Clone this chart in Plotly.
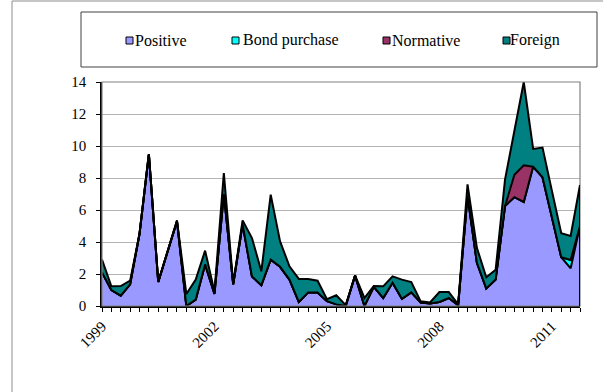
import plotly.graph_objects as go

# ---- data (quarterly, 1999Q1 .. 2011Q4) ----
years = list(range(1999, 2012))
quarters = [f"{y}Q{q}" for y in years for q in range(1, 5)]

positive = [2.1, 1.0, 0.65, 1.35, 4.5, 9.5, 1.5, 3.4, 5.3, 0.0, 0.4, 2.6,
            0.75, 7.0, 1.35, 5.1, 1.85, 1.3, 2.9, 2.45, 1.65, 0.25, 0.85, 0.85,
            0.3, 0.1, 0.0, 1.9, 0.0, 1.2, 0.5, 1.45, 0.45, 0.85, 0.22, 0.15,
            0.25, 0.5, 0.05, 6.9, 2.7, 1.1, 1.65, 6.25, 6.8, 6.5, 8.7, 8.05,
            5.5, 3.05, 2.35, 5.0]
bond_purchase = [0.0] * 50 + [0.52, 0.0]
normative = [0.0] * 44 + [1.4, 2.3, 0.0] + [0.0] * 5
foreign = [0.8, 0.23, 0.6, 0.23, 0.0, 0.0, 0.0, 0.0, 0.05, 0.75, 1.25, 0.86,
           0.15, 1.3, 0.05, 0.25, 2.4, 0.87, 4.06, 1.59, 0.83, 1.44, 0.84, 0.73,
           0.12, 0.57, 0.05, 0.02, 0.5, 0.05, 0.73, 0.4, 1.2, 0.65, 0.07, 0.07,
           0.62, 0.37, 0.05, 0.7, 0.93, 0.7, 0.62, 1.65, 2.7, 5.2, 1.12, 1.85,
           1.7, 1.5, 1.51, 2.57]

series_names = ["Positive", "Bond purchase", "Normative", "Foreign"]
series_values = [positive, bond_purchase, normative, foreign]
series_colors = ["#9999FF", "#00FFFF", "#993366", "#008080"]

tick_labels = [str(q[:4]) if (q.endswith("Q1") and (int(q[:4]) - 1999) % 3 == 0) else ""
               for q in quarters]

# ---- layout geometry ----
W, H = 603, 392
L, R, T, B = 102, 23, 82, 86
PW, PH = W - L - R, H - T - B

def xp(px):
    return (px - L) / PW

def yp(py):
    return (H - B - py) / PH

FONT = "'Liberation Serif', 'Times New Roman', 'DejaVu Serif', serif"

fig = go.Figure()
for name, vals, col in zip(series_names, series_values, series_colors):
    fig.add_trace(go.Scatter(
        x=quarters, y=vals, name=name, stackgroup="one", mode="lines",
        line=dict(color="black", width=2), fillcolor=col, showlegend=False,
        hoverinfo="x+y+name"))

shapes = []
total_last = sum(v[-1] for v in series_values)
# plot area border (gray)
shapes.append(dict(type="rect", xref="paper", yref="paper", x0=0, x1=1, y0=0, y1=1,
                   line=dict(color="#808080", width=1.2), layer="above"))
# right edge outline of the stacked areas
shapes.append(dict(type="line", xref="x", yref="y", x0=len(quarters) - 1, x1=len(quarters) - 1,
                   y0=0, y1=total_last, line=dict(color="black", width=2), layer="above"))
# outer chart-area border (left and top)
shapes.append(dict(type="line", xref="paper", yref="paper", x0=xp(12), x1=xp(12),
                   y0=yp(1), y1=yp(H + 5), line=dict(color="#8c8c8c", width=1)))
shapes.append(dict(type="line", xref="paper", yref="paper", x0=xp(12), x1=xp(W + 5),
                   y0=yp(1), y1=yp(1), line=dict(color="#8c8c8c", width=1)))
# legend box
shapes.append(dict(type="rect", xref="paper", yref="paper", x0=xp(81), x1=xp(597),
                   y0=yp(67), y1=yp(12), line=dict(color="#404040", width=1),
                   fillcolor="white"))

annotations = []
leg_marker_x = [126, 232, 383, 503]
leg_text_x = [134, 242, 391, 509]
ly = 40.5
for name, col, mx, tx in zip(series_names, series_colors, leg_marker_x, leg_text_x):
    shapes.append(dict(type="rect", xref="paper", yref="paper",
                       x0=xp(mx), x1=xp(mx + 7), y0=yp(ly + 3.5), y1=yp(ly - 3.5),
                       line=dict(color="black", width=1), fillcolor=col))
    annotations.append(dict(xref="paper", yref="paper", x=xp(tx), y=yp(ly),
                            xanchor="left", yanchor="middle", showarrow=False,
                            text=name, font=dict(family=FONT, size=16, color="black"),
                            borderpad=0))

fig.update_layout(
    width=W, height=H,
    margin=dict(l=L, r=R, t=T, b=B, pad=0),
    paper_bgcolor="white", plot_bgcolor="white",
    font=dict(family=FONT, size=15, color="black"),
    showlegend=False,
    shapes=shapes, annotations=annotations,
    xaxis=dict(
        type="category", range=[0, len(quarters) - 1],
        tickmode="array", tickvals=quarters, ticktext=tick_labels,
        tickangle=-45, ticks="outside", ticklen=4, tickcolor="black", tickwidth=1,
        showline=True, linecolor="black", linewidth=1.5,
        showgrid=False, zeroline=False,
        tickfont=dict(family=FONT, size=15, color="black"),
    ),
    yaxis=dict(
        range=[0, 14], dtick=2, tick0=0,
        ticks="outside", ticklen=4, tickcolor="black", tickwidth=1,
        showline=True, linecolor="black", linewidth=1.5,
        showgrid=True, gridcolor="#b4b4b4", gridwidth=1.2,
        zeroline=False, ticklabelstandoff=7,
        tickfont=dict(family=FONT, size=15, color="black"),
    ),
)

fig.write_html("out.html")
